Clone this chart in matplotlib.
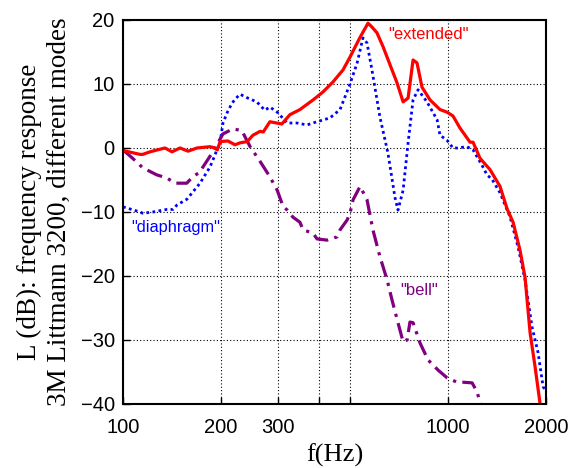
import matplotlib
matplotlib.use("Agg")
import matplotlib.pyplot as plt
from matplotlib.ticker import FixedLocator, FixedFormatter, NullLocator

# "extended" mode
ext_f = [100, 112.8, 115, 121, 134.6, 141.5, 149.7, 158.5, 168.9, 185, 192, 195,
         199, 210, 221, 229, 241, 251, 264, 270, 283, 308, 326, 350, 384, 412,
         442, 475, 499, 536, 567, 583, 604, 631, 672, 696, 727, 753, 780, 802,
         831, 880, 944, 992, 1035, 1088, 1168, 1193, 1253, 1346, 1444, 1518,
         1584, 1664, 1724, 1787, 1851, 1918]
ext_db = [-0.4, -1.0, -1.0, -0.6, 0.0, -0.6, 0.0, -0.5, 0.0, 0.2, 0.0, -0.3,
          1.0, 1.1, 0.5, 0.8, 1.0, 2.0, 2.6, 2.5, 4.1, 3.75, 5.2, 6.0, 7.5, 8.75,
          10.3, 12.2, 14.2, 17.3, 19.5, 18.9, 18.0, 15.8, 12.2, 10.2, 7.2, 7.8, 13.75, 13.3,
          9.5, 7.5, 6.0, 5.6, 5.0, 3.1, 0.9, 0.9, -1.6, -3.4, -6.0, -9.5,
          -11.6, -16.0, -20.2, -28.9, -34.2, -40.0]

# "diaphragm" mode
dia_f = [100, 112.8, 115, 123.7, 136.5, 142.5, 146.6, 157.3, 172.5, 185, 189, 199,
         203, 209, 216.4, 222, 229, 242, 258, 273, 283, 298, 320, 343, 368, 395,
         433, 465, 499, 525, 547, 563, 583, 617, 653, 686, 701, 727, 753, 780,
         808, 861, 925, 944, 992, 1035, 1065, 1143, 1193, 1271, 1317, 1365, 1444,
         1551, 1641, 1724, 1812, 1891, 1959, 2000]
dia_db = [-9.2, -10.0, -10.2, -10.0, -9.6, -9.6, -8.9, -8.0, -5.5, -3.0, -1.9, 1.0,
          3.9, 5.5, 7.0, 7.7, 8.4, 7.8, 7.2, 5.9, 6.4, 5.6, 3.9, 3.9, 3.6, 4.1,
          4.7, 6.0, 10.0, 13.3, 17.2, 16.4, 12.2, 4.8, -0.8, -7.7, -9.7, -6.6, 0.8, 7.5,
          9.1, 7.2, 4.4, 2.0, 1.2, 0.0, 0.0, 0.2, -0.3, -2.7, -4.2, -4.9, -7.0,
          -10.8, -15.5, -20.6, -28.0, -32.0, -37.3, -38.0]

# "bell" mode
bell_f = [100, 107, 115, 127, 136.5, 144.5, 153, 157, 164, 172.5, 176, 189,
          203, 218, 232, 246, 264, 283, 298, 311, 320, 333, 350, 358, 384, 395,
          424, 455, 465, 489, 499, 510, 536, 563, 587, 617, 649, 672, 701, 727,
          748, 763, 780, 820, 867, 931, 992, 1065, 1111, 1185, 1227, 1253, 1260]
bell_db = [-0.3, -1.6, -3.1, -4.2, -4.7, -5.5, -5.5, -5.5, -4.5, -3.75, -3.0, -0.6,
           2.2, 3.0, 2.7, 0.2, -2.1, -4.5, -6.6, -9.2, -9.7, -10.8, -11.6, -12.8, -13.3, -14.2,
           -14.4, -13.9, -12.8, -11.25, -10.2, -8.1, -6.0, -8.1, -12.8, -17.0, -20.6, -23.75, -27.3, -30.3,
           -30.0, -27.2, -27.3, -30.5, -33.1, -34.7, -35.9, -36.6, -36.6, -36.7, -38.1, -39.7, -40.0]

xticks = [100, 200, 300, 400, 500, 1000, 2000]
xticklabels = ["100", "200", "300", "", "", "1000", "2000"]
yticks = [-40, -30, -20, -10, 0, 10, 20]

fig = plt.figure(figsize=(5.69, 4.68), dpi=100)
ax = fig.add_axes([0.2162, 0.1368, 0.7434, 0.8205])

ax.plot(dia_f, dia_db, color="#0000ff", linestyle=(0, (1, 1.2)), linewidth=2.0)
ax.plot(bell_f, bell_db, color="#800080", linestyle=(0, (5, 2, 1, 2)), linewidth=2.3)
ax.plot(ext_f, ext_db, color="#ff0000", linestyle="-", linewidth=2.3)

ax.set_xscale("log")
ax.set_xlim(100, 2000)
ax.set_ylim(-40, 20)
ax.xaxis.set_major_locator(FixedLocator(xticks))
ax.xaxis.set_major_formatter(FixedFormatter(xticklabels))
ax.xaxis.set_minor_locator(NullLocator())
ax.set_yticks(yticks)

ax.grid(True, color="black", linestyle=(0, (1, 2)), linewidth=0.8)
ax.tick_params(direction="in", length=5, width=1, labelsize=14.5, top=False, right=False)
for lab in ax.get_xticklabels() + ax.get_yticklabels():
    lab.set_family("Liberation Sans")
ax.tick_params(axis="x", pad=10)
ax.tick_params(axis="y", pad=6)
for s in ax.spines.values():
    s.set_linewidth(1.5)

ax.text(655, 17.8, '"extended"', color="#ff0000", fontsize=12, family="Liberation Sans", va="center")
ax.text(105.8, -12.5, '"diaphragm"', color="#0000ff", fontsize=11.8, family="Liberation Sans", va="center")
ax.text(710, -22.2, '"bell"', color="#800080", fontsize=12, family="Liberation Sans", va="center")

ax.set_xlabel("f(Hz)", family="Liberation Serif", fontsize=19, labelpad=5)
ax.set_ylabel("L (dB): frequency response\n3M Littmann 3200, different modes",
              family="Liberation Serif", fontsize=19.5, labelpad=6, linespacing=1.3)

fig.savefig("out.png", dpi=100)
